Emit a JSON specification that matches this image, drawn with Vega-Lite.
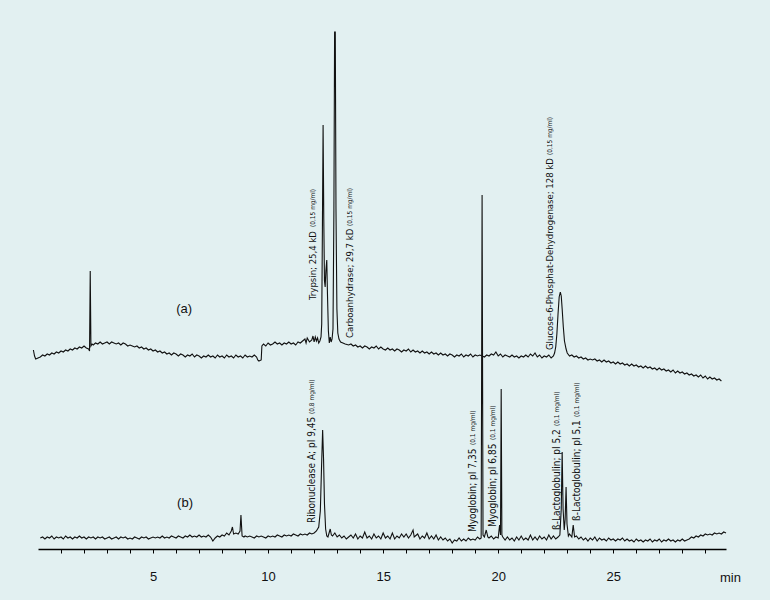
{
"$schema": "https://vega.github.io/schema/vega-lite/v6.json",
"width": 688, "height": 549,
"autosize": "none",
"padding": {"left": 38, "top": 0, "right": 44, "bottom": 51},
"background": "#e2f0f1",
"config": {"view": {"stroke": null}, "font": "Liberation Sans"},
"datasets": {
"a": [
{"t":-0.2,"v":199},{"t":-0.15,"v":193},{"t":-0.1,"v":190},{"t":0.0,"v":191},{"t":0.1,"v":192},{"t":0.2,"v":194},{"t":0.3,"v":193},{"t":0.4,"v":195},{"t":0.5,"v":194},{"t":0.6,"v":196},{"t":0.7,"v":195},{"t":0.8,"v":197},{"t":0.9,"v":196},{"t":1.0,"v":198},{"t":1.1,"v":197},{"t":1.2,"v":199},{"t":1.3,"v":198},{"t":1.4,"v":200},{"t":1.5,"v":199},{"t":1.6,"v":201},{"t":1.7,"v":200},{"t":1.8,"v":202},{"t":1.9,"v":201},{"t":2.0,"v":203},{"t":2.1,"v":201},{"t":2.2,"v":200},{"t":2.24,"v":198},{"t":2.27,"v":278},{"t":2.3,"v":203},{"t":2.35,"v":205},{"t":2.4,"v":204},{"t":2.5,"v":206},{"t":2.6,"v":205},{"t":2.7,"v":207},{"t":2.8,"v":205},{"t":2.9,"v":206},{"t":3.0,"v":207},{"t":3.1,"v":205},{"t":3.2,"v":207},{"t":3.3,"v":206},{"t":3.4,"v":205},{"t":3.5,"v":206},{"t":3.6,"v":204},{"t":3.7,"v":206},{"t":3.8,"v":205},{"t":3.9,"v":203},{"t":4.0,"v":204},{"t":4.1,"v":203},{"t":4.2,"v":202},{"t":4.3,"v":203},{"t":4.4,"v":201},{"t":4.5,"v":202},{"t":4.6,"v":200},{"t":4.7,"v":201},{"t":4.8,"v":199},{"t":4.9,"v":200},{"t":5.0,"v":198},{"t":5.1,"v":199},{"t":5.2,"v":197},{"t":5.3,"v":198},{"t":5.4,"v":196},{"t":5.5,"v":197},{"t":5.6,"v":195},{"t":5.7,"v":196},{"t":5.8,"v":194},{"t":5.9,"v":196},{"t":6.0,"v":195},{"t":6.1,"v":193},{"t":6.2,"v":195},{"t":6.3,"v":194},{"t":6.4,"v":192},{"t":6.5,"v":194},{"t":6.6,"v":193},{"t":6.7,"v":195},{"t":6.8,"v":192},{"t":6.9,"v":194},{"t":7.0,"v":193},{"t":7.1,"v":191},{"t":7.2,"v":193},{"t":7.3,"v":192},{"t":7.4,"v":194},{"t":7.5,"v":192},{"t":7.6,"v":193},{"t":7.7,"v":191},{"t":7.8,"v":194},{"t":7.9,"v":192},{"t":8.0,"v":193},{"t":8.1,"v":191},{"t":8.2,"v":194},{"t":8.3,"v":192},{"t":8.4,"v":193},{"t":8.5,"v":191},{"t":8.6,"v":194},{"t":8.7,"v":192},{"t":8.8,"v":193},{"t":8.9,"v":191},{"t":9.0,"v":194},{"t":9.1,"v":192},{"t":9.2,"v":193},{"t":9.3,"v":192},{"t":9.4,"v":194},{"t":9.5,"v":192},{"t":9.55,"v":189},{"t":9.6,"v":188},{"t":9.7,"v":189},{"t":9.73,"v":203},{"t":9.8,"v":205},{"t":9.9,"v":203},{"t":10.0,"v":206},{"t":10.1,"v":204},{"t":10.2,"v":205},{"t":10.3,"v":207},{"t":10.4,"v":205},{"t":10.5,"v":206},{"t":10.6,"v":204},{"t":10.7,"v":206},{"t":10.8,"v":205},{"t":10.9,"v":207},{"t":11.0,"v":205},{"t":11.1,"v":206},{"t":11.2,"v":204},{"t":11.3,"v":207},{"t":11.4,"v":206},{"t":11.5,"v":208},{"t":11.6,"v":210},{"t":11.65,"v":206},{"t":11.7,"v":211},{"t":11.8,"v":207},{"t":11.9,"v":209},{"t":11.95,"v":213},{"t":12.0,"v":207},{"t":12.05,"v":212},{"t":12.1,"v":208},{"t":12.15,"v":211},{"t":12.2,"v":206},{"t":12.25,"v":208},{"t":12.3,"v":212},{"t":12.33,"v":225},{"t":12.36,"v":320},{"t":12.39,"v":424},{"t":12.42,"v":330},{"t":12.45,"v":268},{"t":12.48,"v":262},{"t":12.51,"v":278},{"t":12.55,"v":289},{"t":12.58,"v":255},{"t":12.62,"v":218},{"t":12.66,"v":206},{"t":12.7,"v":212},{"t":12.74,"v":207},{"t":12.78,"v":210},{"t":12.82,"v":220},{"t":12.86,"v":340},{"t":12.89,"v":517},{"t":12.92,"v":517},{"t":12.95,"v":340},{"t":12.99,"v":240},{"t":13.03,"v":216},{"t":13.08,"v":210},{"t":13.15,"v":207},{"t":13.25,"v":206},{"t":13.35,"v":205},{"t":13.5,"v":204},{"t":13.6,"v":205},{"t":13.7,"v":203},{"t":13.8,"v":204},{"t":13.9,"v":202},{"t":14.0,"v":203},{"t":14.1,"v":201},{"t":14.2,"v":203},{"t":14.3,"v":202},{"t":14.4,"v":200},{"t":14.5,"v":202},{"t":14.6,"v":201},{"t":14.7,"v":203},{"t":14.8,"v":200},{"t":14.9,"v":202},{"t":15.0,"v":200},{"t":15.1,"v":199},{"t":15.2,"v":201},{"t":15.3,"v":199},{"t":15.4,"v":200},{"t":15.5,"v":198},{"t":15.6,"v":200},{"t":15.7,"v":199},{"t":15.8,"v":197},{"t":15.9,"v":199},{"t":16.0,"v":198},{"t":16.1,"v":200},{"t":16.2,"v":197},{"t":16.3,"v":199},{"t":16.4,"v":197},{"t":16.5,"v":198},{"t":16.6,"v":196},{"t":16.7,"v":198},{"t":16.8,"v":196},{"t":16.9,"v":197},{"t":17.0,"v":195},{"t":17.1,"v":197},{"t":17.2,"v":195},{"t":17.3,"v":196},{"t":17.4,"v":194},{"t":17.5,"v":196},{"t":17.6,"v":194},{"t":17.7,"v":195},{"t":17.8,"v":193},{"t":17.9,"v":195},{"t":18.0,"v":194},{"t":18.1,"v":192},{"t":18.2,"v":194},{"t":18.3,"v":193},{"t":18.4,"v":195},{"t":18.5,"v":192},{"t":18.6,"v":194},{"t":18.7,"v":193},{"t":18.8,"v":195},{"t":18.9,"v":192},{"t":19.0,"v":194},{"t":19.1,"v":193},{"t":19.2,"v":194},{"t":19.3,"v":193},{"t":19.4,"v":192},{"t":19.5,"v":194},{"t":19.6,"v":193},{"t":19.7,"v":195},{"t":19.8,"v":194},{"t":19.9,"v":197},{"t":20.0,"v":193},{"t":20.1,"v":195},{"t":20.2,"v":192},{"t":20.3,"v":194},{"t":20.4,"v":193},{"t":20.5,"v":192},{"t":20.6,"v":194},{"t":20.7,"v":192},{"t":20.8,"v":193},{"t":20.9,"v":191},{"t":21.0,"v":193},{"t":21.1,"v":192},{"t":21.2,"v":194},{"t":21.3,"v":192},{"t":21.4,"v":195},{"t":21.5,"v":193},{"t":21.6,"v":196},{"t":21.7,"v":192},{"t":21.8,"v":194},{"t":21.9,"v":191},{"t":22.0,"v":193},{"t":22.1,"v":192},{"t":22.2,"v":194},{"t":22.3,"v":191},{"t":22.4,"v":193},{"t":22.45,"v":196},{"t":22.5,"v":202},{"t":22.55,"v":215},{"t":22.6,"v":235},{"t":22.65,"v":252},{"t":22.7,"v":257},{"t":22.74,"v":253},{"t":22.78,"v":240},{"t":22.83,"v":222},{"t":22.88,"v":208},{"t":22.95,"v":200},{"t":23.0,"v":196},{"t":23.1,"v":193},{"t":23.2,"v":194},{"t":23.3,"v":192},{"t":23.4,"v":193},{"t":23.5,"v":191},{"t":23.6,"v":192},{"t":23.7,"v":190},{"t":23.8,"v":191},{"t":23.9,"v":189},{"t":24.0,"v":190},{"t":24.1,"v":189},{"t":24.2,"v":190},{"t":24.3,"v":188},{"t":24.4,"v":189},{"t":24.5,"v":187},{"t":24.6,"v":189},{"t":24.7,"v":187},{"t":24.8,"v":188},{"t":24.9,"v":186},{"t":25.0,"v":187},{"t":25.1,"v":185},{"t":25.2,"v":187},{"t":25.3,"v":185},{"t":25.4,"v":186},{"t":25.5,"v":184},{"t":25.6,"v":185},{"t":25.7,"v":183},{"t":25.8,"v":185},{"t":25.9,"v":183},{"t":26.0,"v":184},{"t":26.1,"v":182},{"t":26.2,"v":183},{"t":26.3,"v":181},{"t":26.4,"v":183},{"t":26.5,"v":181},{"t":26.6,"v":182},{"t":26.7,"v":180},{"t":26.8,"v":181},{"t":26.9,"v":179},{"t":27.0,"v":181},{"t":27.1,"v":179},{"t":27.2,"v":180},{"t":27.3,"v":178},{"t":27.4,"v":179},{"t":27.5,"v":177},{"t":27.6,"v":179},{"t":27.7,"v":176},{"t":27.8,"v":178},{"t":27.9,"v":176},{"t":28.0,"v":177},{"t":28.1,"v":175},{"t":28.2,"v":176},{"t":28.3,"v":174},{"t":28.4,"v":175},{"t":28.5,"v":173},{"t":28.6,"v":174},{"t":28.7,"v":172},{"t":28.8,"v":174},{"t":28.9,"v":171},{"t":29.0,"v":173},{"t":29.1,"v":170},{"t":29.2,"v":172},{"t":29.3,"v":170},{"t":29.4,"v":171},{"t":29.5,"v":169},{"t":29.6,"v":170},{"t":29.7,"v":168}
],
"b": [
{"t":0.1,"v":11},{"t":0.2,"v":12},{"t":0.3,"v":10},{"t":0.4,"v":12},{"t":0.5,"v":11},{"t":0.6,"v":13},{"t":0.7,"v":10},{"t":0.8,"v":12},{"t":0.9,"v":11},{"t":1.0,"v":12},{"t":1.1,"v":10},{"t":1.2,"v":13},{"t":1.3,"v":11},{"t":1.4,"v":12},{"t":1.5,"v":10},{"t":1.6,"v":12},{"t":1.7,"v":11},{"t":1.8,"v":13},{"t":1.9,"v":11},{"t":2.0,"v":12},{"t":2.1,"v":10},{"t":2.2,"v":12},{"t":2.3,"v":11},{"t":2.4,"v":12},{"t":2.5,"v":10},{"t":2.6,"v":12},{"t":2.7,"v":11},{"t":2.8,"v":12},{"t":2.9,"v":10},{"t":3.0,"v":11},{"t":3.1,"v":12},{"t":3.2,"v":10},{"t":3.3,"v":11},{"t":3.4,"v":12},{"t":3.5,"v":10},{"t":3.6,"v":12},{"t":3.7,"v":11},{"t":3.8,"v":12},{"t":3.9,"v":10},{"t":4.0,"v":11},{"t":4.1,"v":10},{"t":4.2,"v":12},{"t":4.3,"v":11},{"t":4.4,"v":10},{"t":4.5,"v":12},{"t":4.6,"v":11},{"t":4.7,"v":12},{"t":4.8,"v":10},{"t":4.9,"v":11},{"t":5.0,"v":12},{"t":5.1,"v":11},{"t":5.2,"v":12},{"t":5.3,"v":11},{"t":5.4,"v":13},{"t":5.5,"v":11},{"t":5.6,"v":12},{"t":5.7,"v":11},{"t":5.8,"v":13},{"t":5.9,"v":12},{"t":6.0,"v":11},{"t":6.1,"v":13},{"t":6.2,"v":12},{"t":6.3,"v":11},{"t":6.4,"v":13},{"t":6.5,"v":12},{"t":6.6,"v":14},{"t":6.7,"v":12},{"t":6.8,"v":13},{"t":6.9,"v":12},{"t":7.0,"v":14},{"t":7.1,"v":12},{"t":7.2,"v":13},{"t":7.3,"v":12},{"t":7.4,"v":14},{"t":7.5,"v":12},{"t":7.6,"v":8},{"t":7.7,"v":11},{"t":7.8,"v":13},{"t":7.9,"v":12},{"t":8.0,"v":14},{"t":8.1,"v":13},{"t":8.2,"v":16},{"t":8.3,"v":14},{"t":8.4,"v":18},{"t":8.45,"v":22},{"t":8.5,"v":15},{"t":8.6,"v":16},{"t":8.7,"v":15},{"t":8.78,"v":18},{"t":8.82,"v":34},{"t":8.87,"v":13},{"t":8.95,"v":12},{"t":9.0,"v":13},{"t":9.1,"v":12},{"t":9.2,"v":13},{"t":9.3,"v":12},{"t":9.4,"v":11},{"t":9.5,"v":13},{"t":9.6,"v":12},{"t":9.7,"v":13},{"t":9.8,"v":12},{"t":9.9,"v":11},{"t":10.0,"v":13},{"t":10.1,"v":12},{"t":10.2,"v":13},{"t":10.3,"v":12},{"t":10.4,"v":14},{"t":10.5,"v":13},{"t":10.6,"v":12},{"t":10.7,"v":14},{"t":10.8,"v":13},{"t":10.9,"v":14},{"t":11.0,"v":13},{"t":11.1,"v":15},{"t":11.2,"v":14},{"t":11.3,"v":13},{"t":11.4,"v":15},{"t":11.5,"v":14},{"t":11.6,"v":15},{"t":11.7,"v":14},{"t":11.8,"v":16},{"t":11.9,"v":15},{"t":12.0,"v":16},{"t":12.1,"v":18},{"t":12.2,"v":22},{"t":12.27,"v":38},{"t":12.32,"v":80},{"t":12.37,"v":119},{"t":12.41,"v":90},{"t":12.45,"v":45},{"t":12.5,"v":20},{"t":12.55,"v":13},{"t":12.6,"v":12},{"t":12.65,"v":16},{"t":12.7,"v":20},{"t":12.75,"v":14},{"t":12.8,"v":13},{"t":12.9,"v":16},{"t":13.0,"v":12},{"t":13.1,"v":14},{"t":13.2,"v":11},{"t":13.3,"v":13},{"t":13.4,"v":10},{"t":13.5,"v":12},{"t":13.6,"v":14},{"t":13.7,"v":11},{"t":13.8,"v":15},{"t":13.9,"v":10},{"t":14.0,"v":13},{"t":14.1,"v":11},{"t":14.2,"v":17},{"t":14.3,"v":11},{"t":14.4,"v":13},{"t":14.5,"v":10},{"t":14.6,"v":15},{"t":14.7,"v":11},{"t":14.8,"v":13},{"t":14.9,"v":10},{"t":15.0,"v":16},{"t":15.1,"v":11},{"t":15.2,"v":13},{"t":15.3,"v":10},{"t":15.4,"v":16},{"t":15.5,"v":10},{"t":15.6,"v":13},{"t":15.7,"v":11},{"t":15.8,"v":15},{"t":15.9,"v":12},{"t":16.0,"v":15},{"t":16.1,"v":11},{"t":16.2,"v":14},{"t":16.3,"v":19},{"t":16.35,"v":12},{"t":16.5,"v":15},{"t":16.6,"v":10},{"t":16.7,"v":13},{"t":16.8,"v":11},{"t":16.9,"v":16},{"t":17.0,"v":10},{"t":17.1,"v":13},{"t":17.2,"v":10},{"t":17.3,"v":14},{"t":17.4,"v":9},{"t":17.5,"v":12},{"t":17.6,"v":9},{"t":17.7,"v":11},{"t":17.8,"v":8},{"t":17.9,"v":10},{"t":18.0,"v":6},{"t":18.1,"v":9},{"t":18.2,"v":8},{"t":18.3,"v":11},{"t":18.4,"v":8},{"t":18.5,"v":10},{"t":18.6,"v":8},{"t":18.7,"v":11},{"t":18.8,"v":9},{"t":18.9,"v":10},{"t":19.0,"v":9},{"t":19.1,"v":12},{"t":19.2,"v":10},{"t":19.26,"v":11},{"t":19.3,"v":354},{"t":19.34,"v":14},{"t":19.4,"v":12},{"t":19.48,"v":19},{"t":19.55,"v":12},{"t":19.6,"v":11},{"t":19.7,"v":13},{"t":19.8,"v":10},{"t":19.9,"v":12},{"t":20.0,"v":11},{"t":20.06,"v":24},{"t":20.1,"v":14},{"t":20.13,"v":160},{"t":20.16,"v":14},{"t":20.2,"v":12},{"t":20.3,"v":9},{"t":20.4,"v":12},{"t":20.5,"v":9},{"t":20.6,"v":11},{"t":20.7,"v":8},{"t":20.8,"v":12},{"t":20.9,"v":9},{"t":21.0,"v":13},{"t":21.1,"v":9},{"t":21.2,"v":11},{"t":21.3,"v":9},{"t":21.4,"v":14},{"t":21.5,"v":9},{"t":21.6,"v":12},{"t":21.7,"v":9},{"t":21.8,"v":13},{"t":21.9,"v":10},{"t":22.0,"v":12},{"t":22.1,"v":9},{"t":22.2,"v":14},{"t":22.3,"v":10},{"t":22.4,"v":13},{"t":22.5,"v":10},{"t":22.6,"v":12},{"t":22.68,"v":14},{"t":22.74,"v":40},{"t":22.78,"v":97},{"t":22.82,"v":40},{"t":22.87,"v":19},{"t":22.91,"v":30},{"t":22.95,"v":62},{"t":22.99,"v":25},{"t":23.05,"v":13},{"t":23.1,"v":15},{"t":23.2,"v":12},{"t":23.26,"v":24},{"t":23.32,"v":12},{"t":23.4,"v":13},{"t":23.5,"v":10},{"t":23.6,"v":12},{"t":23.7,"v":9},{"t":23.8,"v":11},{"t":23.9,"v":8},{"t":24.0,"v":11},{"t":24.1,"v":9},{"t":24.2,"v":12},{"t":24.3,"v":8},{"t":24.4,"v":11},{"t":24.5,"v":9},{"t":24.6,"v":10},{"t":24.7,"v":8},{"t":24.8,"v":11},{"t":24.9,"v":9},{"t":25.0,"v":10},{"t":25.1,"v":8},{"t":25.2,"v":10},{"t":25.3,"v":9},{"t":25.4,"v":11},{"t":25.5,"v":8},{"t":25.6,"v":10},{"t":25.7,"v":8},{"t":25.8,"v":9},{"t":25.9,"v":7},{"t":26.0,"v":10},{"t":26.1,"v":8},{"t":26.2,"v":9},{"t":26.3,"v":7},{"t":26.4,"v":9},{"t":26.5,"v":8},{"t":26.6,"v":10},{"t":26.7,"v":7},{"t":26.8,"v":9},{"t":26.9,"v":8},{"t":27.0,"v":10},{"t":27.1,"v":7},{"t":27.2,"v":9},{"t":27.3,"v":8},{"t":27.4,"v":10},{"t":27.5,"v":8},{"t":27.6,"v":9},{"t":27.7,"v":7},{"t":27.8,"v":9},{"t":27.9,"v":8},{"t":28.0,"v":10},{"t":28.1,"v":8},{"t":28.2,"v":9},{"t":28.3,"v":10},{"t":28.4,"v":12},{"t":28.5,"v":11},{"t":28.6,"v":13},{"t":28.7,"v":12},{"t":28.8,"v":14},{"t":28.9,"v":13},{"t":29.0,"v":15},{"t":29.1,"v":14},{"t":29.2,"v":15},{"t":29.3,"v":14},{"t":29.4,"v":16},{"t":29.5,"v":15},{"t":29.6,"v":16},{"t":29.7,"v":15},{"t":29.8,"v":17},{"t":29.9,"v":16}
],
"labels": [
{"t":11.96,"v":249,"part":"nameA","text":"Trypsin; 25,4 kD"},
{"t":11.96,"v":322,"part":"conc","text":"(0,15 mg/ml)"},
{"t":13.57,"v":211,"part":"nameA","text":"Carboanhydrase; 29,7 kD"},
{"t":13.57,"v":323,"part":"conc","text":"(0,15 mg/ml)"},
{"t":22.26,"v":199,"part":"nameA","text":"Glucose-6-Phosphat-Dehydrogenase; 128 kD"},
{"t":22.26,"v":394,"part":"conc","text":"(0,15 mg/ml)"},
{"t":11.91,"v":26,"part":"nameB","text":"Ribonuclease A; pI 9,45"},
{"t":11.91,"v":135,"part":"conc","text":"(0,8 mg/ml)"},
{"t":18.91,"v":17,"part":"nameB","text":"Myoglobin; pI 7,35"},
{"t":18.91,"v":104,"part":"conc","text":"(0,1 mg/ml)"},
{"t":19.78,"v":22,"part":"nameB","text":"Myoglobin; pI 6,85"},
{"t":19.78,"v":109,"part":"conc","text":"(0,1 mg/ml)"},
{"t":22.57,"v":19,"part":"nameB","text":"ß-Lactoglobulin; pI 5,2"},
{"t":22.57,"v":123,"part":"conc","text":"(0,1 mg/ml)"},
{"t":23.43,"v":28,"part":"nameB","text":"ß-Lactoglobulin; pI 5,1"},
{"t":23.43,"v":132,"part":"conc","text":"(0,1 mg/ml)"},
{"t":6.35,"v":240,"part":"trace","text":"(a)"},
{"t":6.39,"v":46,"part":"trace","text":"(b)"}
]
},
"encoding": {
"x": {"field": "t", "type": "quantitative",
 "scale": {"domain": [0, 29.9], "nice": false, "zero": false},
 "axis": {"values": [1,2,3,4,5,6,7,8,9,10,11,12,13,14,15,16,17,18,19,20,21,22,23,24,25,26,27,28,29],
  "labelExpr": "datum.value % 5 == 0 ? datum.label : ''",
  "grid": false, "domainColor": "#000000", "domainWidth": 1.5, "tickColor": "#000000", "tickSize": 4, "tickWidth": 1,
  "labelFont": "Liberation Sans", "labelFontSize": 13, "labelColor": "#111111", "labelPadding": 17,
  "title": "min", "titleFont": "Liberation Sans", "titleFontSize": 13, "titleFontWeight": "normal", "titleColor": "#111111",
  "titleX": 692, "titleY": 22, "titleAlign": "center", "titleBaseline": "top", "titleAnchor": null}},
"y": {"field": "v", "type": "quantitative", "scale": {"domain": [0, 549], "nice": false, "zero": false}, "axis": null}
},
"layer": [
{"data": {"name": "a"}, "mark": {"type": "line", "color": "#111111", "strokeWidth": 1.1, "interpolate": "linear"}},
{"data": {"name": "b"}, "mark": {"type": "line", "color": "#111111", "strokeWidth": 1.1, "interpolate": "linear"}},
{"data": {"name": "labels"}, "transform": [{"filter": "datum.part == 'nameA'"}],
 "mark": {"type": "text", "angle": 270, "align": "left", "baseline": "middle", "font": "DejaVu Sans Condensed, Liberation Sans, sans-serif", "fontSize": 9.5, "color": "#111111"},
 "encoding": {"text": {"field": "text"}}},
{"data": {"name": "labels"}, "transform": [{"filter": "datum.part == 'nameB'"}],
 "mark": {"type": "text", "angle": 270, "align": "left", "baseline": "middle", "font": "DejaVu Sans Condensed, Liberation Sans, sans-serif", "fontSize": 10, "color": "#111111"},
 "encoding": {"text": {"field": "text"}}},
{"data": {"name": "labels"}, "transform": [{"filter": "datum.part == 'conc'"}],
 "mark": {"type": "text", "angle": 270, "align": "left", "baseline": "middle", "font": "DejaVu Sans Condensed, Liberation Sans, sans-serif", "fontSize": 6.5, "color": "#111111"},
 "encoding": {"text": {"field": "text"}}},
{"data": {"name": "labels"}, "transform": [{"filter": "datum.part == 'trace'"}],
 "mark": {"type": "text", "align": "center", "baseline": "middle", "font": "Liberation Sans", "fontSize": 13, "color": "#111111"},
 "encoding": {"text": {"field": "text"}}}
]
}
